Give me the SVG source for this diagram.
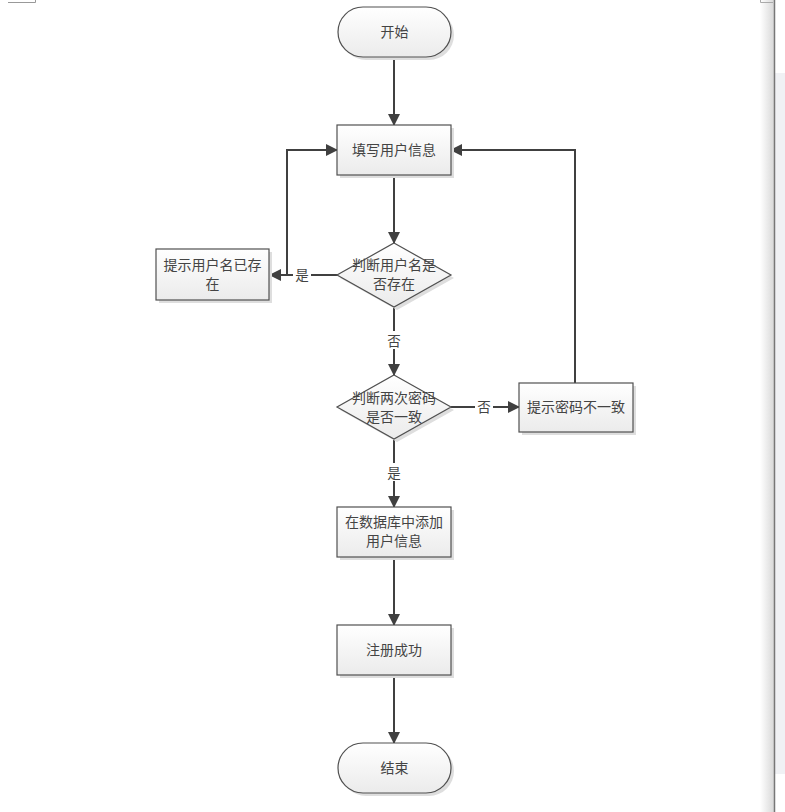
<svg xmlns="http://www.w3.org/2000/svg" width="785" height="812" viewBox="0 0 785 812">
<style>
.shape{fill:url(#g);stroke:#505050;stroke-width:1.2}
.shadow{fill:#dedede}
.t{font-family:"Noto Sans CJK SC","Noto Sans",sans-serif;font-size:14px;fill:#444;text-anchor:middle;dominant-baseline:central}
.c{fill:none;stroke:#404040;stroke-width:2}
.lbl{font-family:"Noto Sans CJK SC",sans-serif;font-size:13.5px;fill:#444;text-anchor:middle;dominant-baseline:central}
</style>
<defs>
<linearGradient id="g" x1="0" y1="0" x2="0" y2="1">
<stop offset="0" stop-color="#ffffff"/>
<stop offset="1" stop-color="#ebebeb"/>
</linearGradient>
<linearGradient id="edge" x1="0" y1="0" x2="1" y2="0">
<stop offset="0" stop-color="#ffffff"/>
<stop offset="1" stop-color="#d8d8d8"/>
</linearGradient>
<marker id="ar" viewBox="0 0 12 12" refX="11" refY="6" markerWidth="12" markerHeight="12" orient="auto" markerUnits="userSpaceOnUse">
<path d="M0,0 L12,6 L0,12 Z" fill="#404040"/>
</marker>
</defs>
<rect width="785" height="812" fill="#fff"/>
<path d="M8,2.5 H35.5 V0" fill="none" stroke="#999" stroke-width="1"/>
<rect x="760" y="0" width="14" height="812" fill="url(#edge)"/>
<rect x="775" y="73" width="10" height="701" fill="#f0f1f4"/>
<path d="M760.5,0 V2.5 H773" fill="none" stroke="#aaa" stroke-width="1"/>
<line x1="774.5" y1="0" x2="774.5" y2="812" stroke="#777" stroke-width="1.5"/>

<g id="connectors">
<line class="c" x1="394" y1="57" x2="394" y2="125" marker-end="url(#ar)"/>
<line class="c" x1="394" y1="175" x2="394" y2="243" marker-end="url(#ar)"/>
<line class="c" x1="338" y1="275" x2="270" y2="275" marker-end="url(#ar)"/>
<polyline class="c" points="287,275 287,150 337,150" marker-end="url(#ar)"/>
<line class="c" x1="394" y1="307" x2="394" y2="375" marker-end="url(#ar)"/>
<line class="c" x1="451" y1="407" x2="519" y2="407" marker-end="url(#ar)"/>
<polyline class="c" points="575,383 575,150 451,150" marker-end="url(#ar)"/>
<line class="c" x1="394" y1="439" x2="394" y2="507" marker-end="url(#ar)"/>
<line class="c" x1="394" y1="557" x2="394" y2="625" marker-end="url(#ar)"/>
<line class="c" x1="394" y1="675" x2="394" y2="743" marker-end="url(#ar)"/>
<rect x="293" y="266" width="18" height="18" fill="#fff"/>
<text class="lbl" x="302" y="274">是</text>
<rect x="385" y="331" width="18" height="18" fill="#fff"/>
<text class="lbl" x="394" y="340">否</text>
<rect x="475" y="398" width="18" height="18" fill="#fff"/>
<text class="lbl" x="484" y="406">否</text>
<rect x="385" y="463" width="18" height="18" fill="#fff"/>
<text class="lbl" x="394" y="472">是</text>
</g>

<g id="start">
<rect class="shadow" x="341" y="10" width="113" height="50" rx="25"/>
<rect class="shape" x="338" y="7" width="113" height="50" rx="25"/>
<text class="t" x="394.5" y="31">开始</text>
</g>
<g id="fill-info">
<rect class="shadow" x="340" y="128" width="114" height="50"/>
<rect class="shape" x="337" y="125" width="114" height="50"/>
<text class="t" x="394" y="149">填写用户信息</text>
</g>
<g id="check-name">
<path class="shadow" d="M397,246 L454,278 L397,310 L340,278 Z"/>
<path class="shape" d="M394,243 L451,275 L394,307 L337,275 Z"/>
<text class="t" x="394" y="264">判断用户名是</text>
<text class="t" x="394" y="283">否存在</text>
</g>
<g id="name-exists">
<rect class="shadow" x="159" y="252" width="113" height="51"/>
<rect class="shape" x="156" y="249" width="113" height="51"/>
<text class="t" x="212.5" y="264">提示用户名已存</text>
<text class="t" x="212.5" y="283">在</text>
</g>
<g id="check-pwd">
<path class="shadow" d="M397,378 L454,410 L397,442 L340,410 Z"/>
<path class="shape" d="M394,375 L451,407 L394,439 L337,407 Z"/>
<text class="t" x="394" y="396.5">判断两次密码</text>
<text class="t" x="394" y="415.5">是否一致</text>
</g>
<g id="pwd-mismatch">
<rect class="shadow" x="522" y="386" width="114" height="49"/>
<rect class="shape" x="519" y="383" width="114" height="49"/>
<text class="t" x="576" y="406">提示密码不一致</text>
</g>
<g id="add-db">
<rect class="shadow" x="340" y="510" width="114" height="50"/>
<rect class="shape" x="337" y="507" width="114" height="50"/>
<text class="t" x="394" y="521">在数据库中添加</text>
<text class="t" x="394" y="540">用户信息</text>
</g>
<g id="success">
<rect class="shadow" x="340" y="628" width="114" height="50"/>
<rect class="shape" x="337" y="625" width="114" height="50"/>
<text class="t" x="394" y="649">注册成功</text>
</g>
<g id="end">
<rect class="shadow" x="341" y="746" width="113" height="50" rx="25"/>
<rect class="shape" x="338" y="743" width="113" height="50" rx="25"/>
<text class="t" x="394.5" y="767">结束</text>
</g>
</svg>
